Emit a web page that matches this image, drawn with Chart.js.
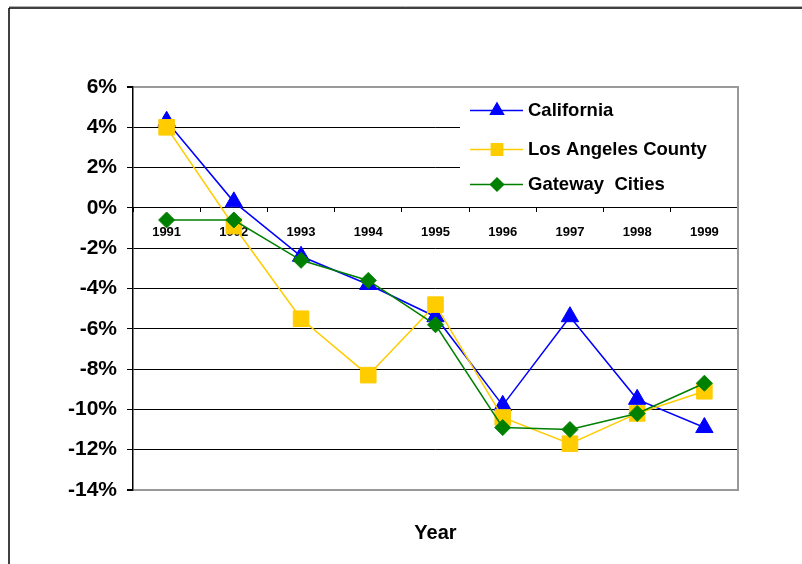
<!DOCTYPE html>
<html>
<head>
<meta charset="utf-8">
<style>
  html, body { margin: 0; padding: 0; background: #fff; }
  #wrap { width: 802px; height: 564px; }
</style>
<script src="https://cdn.jsdelivr.net/npm/chart.js@4/dist/chart.umd.min.js"></script>
</head>
<body>
<div id="wrap"><canvas id="chart" width="802" height="564"></canvas></div>
<script>
// Annual percent change, 1991-1999
const years = ['1991', '1992', '1993', '1994', '1995', '1996', '1997', '1998', '1999'];
const california = [4.3, 0.3, -2.4, -3.8, -5.4, -9.8, -5.4, -9.5, -10.9];
const losAngelesCounty = [4.0, -0.9, -5.5, -8.3, -4.8, -10.4, -11.7, -10.2, -9.1];
const gatewayCities = [-0.6, -0.6, -2.6, -3.6, -5.8, -10.9, -11.0, -10.2, -8.7];
const seriesNames = ['California', 'Los Angeles County', 'Gateway  Cities'];
const yTicks = [6, 4, 2, 0, -2, -4, -6, -8, -10, -12, -14];

const FONT = '"Liberation Sans", Arial, Helvetica, sans-serif';
Chart.defaults.font.family = FONT;
Chart.defaults.color = '#000';

// Outer frame, plot border and the in-plot legend
const decorations = {
  id: 'decorations',
  beforeDraw(chart) {
    const ctx = chart.ctx;
    ctx.save();
    ctx.fillStyle = '#fff';
    ctx.fillRect(0, 0, chart.width, chart.height);
    ctx.strokeStyle = '#b0b0b0';
    ctx.lineWidth = 1;
    ctx.beginPath(); ctx.moveTo(9, 6.5); ctx.lineTo(chart.width, 6.5); ctx.stroke();
    ctx.strokeStyle = '#000';
    ctx.lineWidth = 1.5;
    ctx.beginPath(); ctx.moveTo(9, 8); ctx.lineTo(chart.width, 8); ctx.stroke();
    ctx.beginPath(); ctx.moveTo(9, 8); ctx.lineTo(9, chart.height); ctx.stroke();
    ctx.restore();
  },
  beforeDatasetsDraw(chart) {
    const ctx = chart.ctx;
    const a = chart.chartArea;
    ctx.save();
    // right edge of the plot
    ctx.strokeStyle = '#999';
    ctx.lineWidth = 2;
    ctx.beginPath(); ctx.moveTo(a.right, a.top - 1); ctx.lineTo(a.right, a.bottom + 1); ctx.stroke();
    // legend panel
    ctx.fillStyle = '#fff';
    ctx.fillRect(460, 92, a.right - 461, 106);
    const rows = [110.5, 149.5, 184.5];
    const legendRadius = [7.5, 8, 6.5];
    chart.data.datasets.forEach((ds, i) => {
      const y = rows[i];
      ctx.strokeStyle = ds.borderColor;
      ctx.lineWidth = 1.5;
      ctx.beginPath(); ctx.moveTo(470, y); ctx.lineTo(523, y); ctx.stroke();
      ctx.fillStyle = ds.pointBackgroundColor;
      ctx.strokeStyle = ds.pointBorderColor;
      Chart.helpers.drawPoint(ctx, {
        pointStyle: ds.pointStyle, radius: legendRadius[i], rotation: 0, borderWidth: 1
      }, 497, y);
      ctx.fillStyle = '#000';
      ctx.font = 'bold 18.5px ' + FONT;
      ctx.textAlign = 'left';
      ctx.textBaseline = 'middle';
      ctx.fillText(ds.label, 528, y + 0.5);
    });
    ctx.restore();
  }
};

const edgeTick = v => v === yTicks[0] || v === yTicks[yTicks.length - 1];

new Chart(document.getElementById('chart'), {
  type: 'line',
  data: {
    labels: years,
    datasets: [
      {
        label: seriesNames[0], data: california, order: 2,
        borderColor: '#0000FF', backgroundColor: '#0000FF',
        pointBackgroundColor: '#0000FF', pointBorderColor: '#0000FF',
        pointStyle: 'triangle', pointRadius: 10, pointBorderWidth: 1,
        borderWidth: 1.5, tension: 0, fill: false
      },
      {
        label: seriesNames[1], data: losAngelesCounty, order: 1,
        borderColor: '#FFCC00', backgroundColor: '#FFCC00',
        pointBackgroundColor: '#FFCC00', pointBorderColor: '#FFCC00',
        pointStyle: 'rect', pointRadius: 11, pointBorderWidth: 1,
        borderWidth: 1.5, tension: 0, fill: false
      },
      {
        label: seriesNames[2], data: gatewayCities, order: 0,
        borderColor: '#008000', backgroundColor: '#008000',
        pointBackgroundColor: '#008000', pointBorderColor: '#008000',
        pointStyle: 'rectRot', pointRadius: 8, pointBorderWidth: 1,
        borderWidth: 1.5, tension: 0, fill: false
      }
    ]
  },
  options: {
    responsive: false,
    animation: false,
    devicePixelRatio: 1,
    layout: { padding: { top: 87, right: 64, left: 0, bottom: 0 } },
    plugins: {
      legend: { display: false },
      tooltip: { enabled: false },
      title: {
        display: true,
        text: 'Year',
        position: 'bottom',
        fullSize: false,
        color: '#000',
        font: { size: 20, weight: 'bold', family: FONT },
        padding: { top: 31, bottom: 19 }
      }
    },
    scales: {
      x: {
        type: 'category',
        position: { y: 0 },
        offset: true,
        grid: {
          display: true, offset: true, drawOnChartArea: false,
          color: '#000', tickLength: 4, lineWidth: 1
        },
        border: { display: true, color: '#000', width: 1 },
        ticks: {
          color: '#000', padding: 13, maxRotation: 0, autoSkip: false,
          font: { size: 13, weight: 'bold', family: FONT }
        }
      },
      y: {
        min: yTicks[yTicks.length - 1],
        max: yTicks[0],
        afterFit(scale) { scale.width = 133; },
        afterBuildTicks(scale) { scale.ticks = yTicks.map(v => ({ value: v })); },
        grid: {
          color: c => (c.tick && edgeTick(c.tick.value)) ? '#999' : '#000',
          lineWidth: c => (c.tick && edgeTick(c.tick.value)) ? 2 : 1,
          tickColor: '#000',
          tickLength: 6
        },
        border: { display: true, color: '#000', width: 1.5 },
        ticks: {
          color: '#000', padding: 10,
          font: { size: 21, weight: 'bold', family: FONT },
          callback: v => v + '%'
        }
      }
    }
  },
  plugins: [decorations]
});
</script>
</body>
</html>
